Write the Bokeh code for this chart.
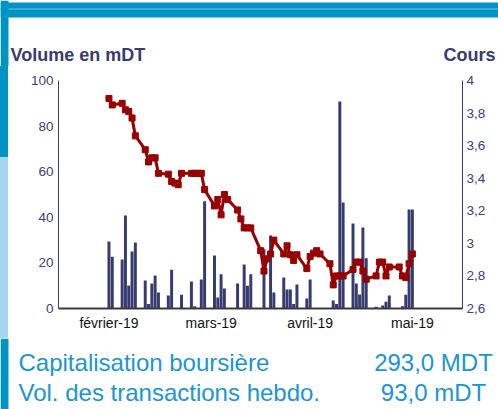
from bokeh.plotting import figure
from bokeh.models import (Range1d, LinearAxis, FixedTicker, CustomJSTickFormatter,
                          ColumnDataSource, Div)
from bokeh.core.properties import value
from bokeh.layouts import column, row
from bokeh.embed import file_html
from bokeh.resources import INLINE

# ---- data (day offset from first session, volume in mDT, price in DT) ----
days = [0, 1, 4, 5, 6, 7, 8, 11, 12, 13, 14, 15, 18, 19, 20, 21, 22,
        25, 26, 27, 28, 29, 32, 33, 34, 35, 36, 39, 40, 41, 42, 43,
        46, 47, 48, 49, 50, 53, 54, 55, 56, 57, 60, 61, 62, 63, 64,
        67, 68, 69, 70, 71, 74, 75, 76, 77, 78, 81, 82, 83, 84, 85,
        88, 89, 90, 91, 92]
volume = [29.4, 22.7, 21.5, 40.8, 10.1, 25.0, 29.0, 12.3, 2.0, 11.0, 14.5, 7.0,
          5.7, 17.0, 0, 0, 6.0, 11.8, 1.0, 0, 12.7, 47.0, 23.2, 4.8, 15.0, 8.8, 0,
          11.0, 0, 19.3, 10.0, 15.0, 0, 26.0, 0, 32.0, 7.0, 13.6, 8.3, 8.3, 2.0, 10.5,
          4.4, 12.7, 0, 0, 0, 0, 3.5, 2.0, 90.8, 46.5, 37.3, 11.0, 6.1, 35.5, 22.0,
          0.8, 0, 1.3, 3.0, 5.7, 0, 1.0, 6.0, 43.4, 43.4]
cours = [3.89, 3.85, 3.86, 3.82, 3.81, 3.77, 3.66, 3.575, 3.50, 3.525, 3.525, 3.43,
         3.425, 3.38, 3.37, 3.36, 3.43, 3.43, 3.43, 3.43, 3.43, 3.33,
         3.23, 3.27, 3.175, 3.30, 3.27, 3.205, 3.15, 3.095, 3.095, 3.095,
         2.955, 2.83, 2.905, 2.935, 3.02, 2.935, 2.985, 2.93, 2.895, 2.93,
         2.845, 2.92, 2.94, 2.955, 2.935, 2.875, 2.745, 2.80, 2.80, 2.80,
         2.84, 2.885, 2.885, 2.83, 2.78, 2.80, 2.885, 2.885, 2.80, 2.855,
         2.855, 2.80, 2.79, 2.875, 2.935]
month_ticks = [0, 31, 61, 92]
month_labels = ["février-19", "mars-19", "avril-19", "mai-19"]
vol_ticks = [0, 20, 40, 60, 80, 100]
cours_ticks = [2.6, 2.8, 3.0, 3.2, 3.4, 3.6, 3.8, 4.0]
axis_titles = ["Volume en mDT", "Cours"]
info_labels = ["Capitalisation boursière", "Vol. des transactions hebdo."]
info_values = ["293,0 MDT", "93,0 mDT"]

NAVY = "#363B72"
TICK = "#3C4179"
RED = "#990000"
BLUE = "#1A96D4"
BAND = "#0094C6"
LIGHT = "#A6D5F0"
FONT = value("Liberation Sans")
W = 498


def blank(width, height):
    f = figure(width=width, height=height, output_backend="svg", toolbar_location=None,
               x_range=Range1d(0, width), y_range=Range1d(height, 0),
               min_border=0, min_border_left=0, min_border_right=0,
               min_border_top=0, min_border_bottom=0)
    f.axis.visible = False
    f.grid.visible = False
    f.outline_line_color = None
    f.background_fill_color = "white"
    f.border_fill_color = "white"
    return f


# ---------------- header ----------------
HH = 66
head = blank(W, HH)
head.quad(left=[0], right=[W], top=[2], bottom=[17], fill_color=BAND, line_color=None)
head.quad(left=[0], right=[W], top=[7.5], bottom=[9.5], fill_color="#3AAAD8", line_color=None)
head.quad(left=[0], right=[8], top=[0], bottom=[HH], fill_color=BAND, line_color=None)
head.text(x=[10, 443], y=[54, 54], text=axis_titles, text_font=FONT,
          text_font_size="18px", text_font_style="bold", text_color=NAVY,
          text_baseline="alphabetic")

# ---------------- main chart ----------------
MH = 272
src = ColumnDataSource(dict(day=days, vol=volume, cours=cours))

p = figure(width=490, height=MH, output_backend="svg", toolbar_location=None,
           x_range=Range1d(-15.3, 107.2), y_range=Range1d(0, 100),
           min_border_left=50, min_border_right=36, min_border_top=14,
           min_border_bottom=30)
p.extra_y_ranges = {"cours": Range1d(2.6, 4.0)}
p.outline_line_color = None
p.xgrid.visible = False
p.ygrid.visible = False
p.background_fill_color = "white"
p.border_fill_color = "white"

p.vbar(x="day", top="vol", bottom=0, width=0.9, source=src,
       fill_color=NAVY, line_color=None)
p.line(x="day", y="cours", source=src, y_range_name="cours",
       line_color=RED, line_width=3)
p.scatter(x="day", y="cours", source=src, y_range_name="cours",
          marker="square", size=6, fill_color=RED, line_color=RED)

xa = p.xaxis[0]
xa.ticker = FixedTicker(ticks=month_ticks)
xa.major_label_overrides = {t: l for t, l in zip(month_ticks, month_labels)}
xa.axis_line_color = "#3A3A3A"
xa.axis_line_width = 2
xa.major_tick_line_color = None
xa.minor_tick_line_color = None
xa.major_tick_out = 0
xa.major_tick_in = 0
xa.major_label_standoff = 6
xa.major_label_text_font = "Liberation Sans"
xa.major_label_text_font_size = "14px"
xa.major_label_text_color = "#111111"

ya = p.yaxis[0]
ya.ticker = FixedTicker(ticks=vol_ticks)
ya.axis_line_color = NAVY
ya.major_tick_line_color = None
ya.minor_tick_line_color = None
ya.major_tick_out = 0
ya.major_tick_in = 0
ya.major_label_standoff = 5
ya.major_label_text_font = "Liberation Sans"
ya.major_label_text_font_size = "13.5px"
ya.major_label_text_color = TICK

ra = LinearAxis(y_range_name="cours", ticker=FixedTicker(ticks=cours_ticks),
                formatter=CustomJSTickFormatter(
                    code="return String(Math.round(tick*10)/10).replace('.', ',');"))
ra.axis_line_color = NAVY
ra.major_tick_line_color = None
ra.minor_tick_line_color = None
ra.major_tick_out = 0
ra.major_tick_in = 0
ra.major_label_standoff = 4
ra.major_label_text_font = "Liberation Sans"
ra.major_label_text_font_size = "13.5px"
ra.major_label_text_color = TICK
p.add_layout(ra, "right")

stripe = Div(text="", width=8, height=MH, margin=(0, 0, 0, 0),
             styles={"background": "linear-gradient(to bottom, %s 0px, %s 91px, %s 91px, %s 100%%)"
                     % (BAND, BAND, LIGHT, LIGHT)})

# ---------------- info block ----------------
IH = 409 - HH - MH
info = blank(W, IH)
info.quad(left=[0], right=[8], top=[0], bottom=[IH], fill_color=BAND, line_color=None)
info.text(x=[18, 18], y=[23.5, 54], text=info_labels, text_font=FONT,
          text_font_size="24px", text_color=BLUE, text_baseline="alphabetic")
info.text(x=[433, 433], y=[23.5, 54], text=info_values, text_font=FONT,
          text_font_size="24px", text_color=BLUE, text_baseline="alphabetic",
          text_align="center")

layout = column(head, row(stripe, p, spacing=0), info, spacing=0)
open("out.html", "w").write(file_html(layout, INLINE))
